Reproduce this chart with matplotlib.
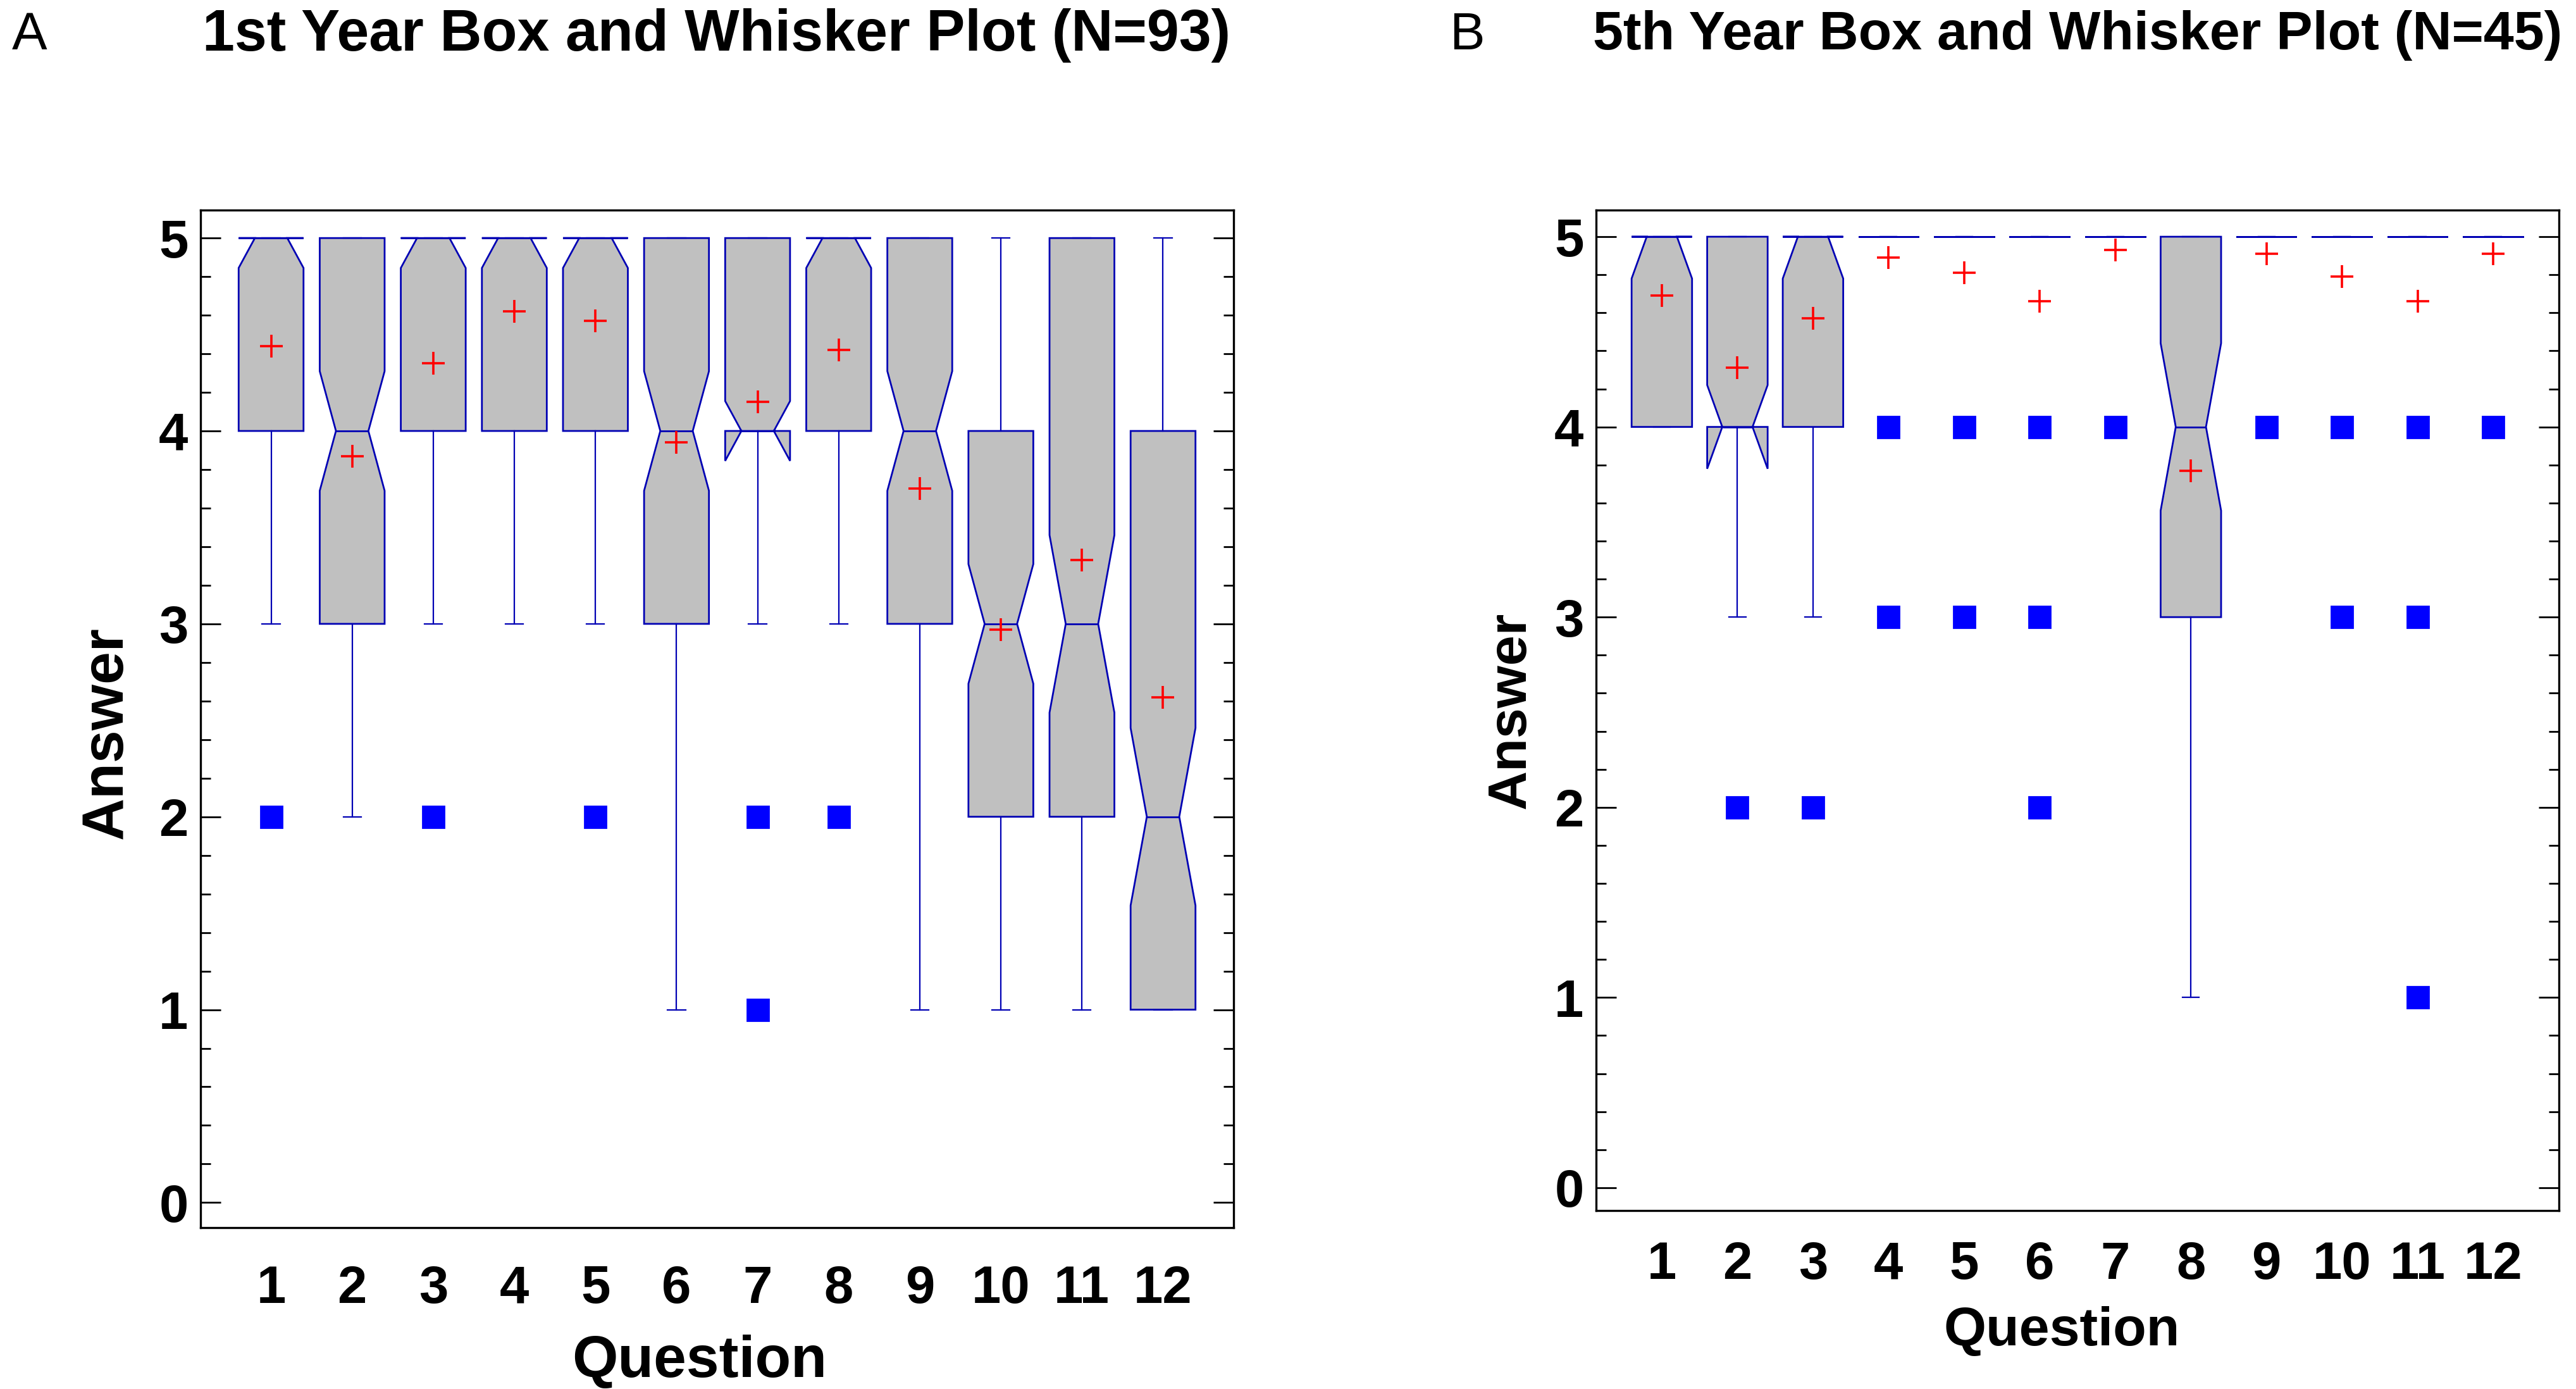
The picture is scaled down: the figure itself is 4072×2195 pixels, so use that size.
import matplotlib
matplotlib.use("Agg")
import matplotlib.pyplot as plt
from matplotlib.ticker import MultipleLocator, FixedLocator

plt.rcParams['font.family'] = ['Liberation Sans', 'DejaVu Sans']

questions = [1, 2, 3, 4, 5, 6, 7, 8, 9, 10, 11, 12]

# Panel A: 1st year (N=93)
A_whislo = [3, 2, 3, 3, 3, 1, 3, 3, 1, 1, 1, 1]
A_q1 = [4, 3, 4, 4, 4, 3, 4, 4, 3, 2, 2, 1]
A_med = [5, 4, 5, 5, 5, 4, 4, 5, 4, 3, 3, 2]
A_q3 = [5, 5, 5, 5, 5, 5, 5, 5, 5, 4, 5, 4]
A_whishi = [5, 5, 5, 5, 5, 5, 5, 5, 5, 5, 5, 5]
A_mean = [4.44, 3.87, 4.35, 4.62, 4.57, 3.94, 4.15, 4.42, 3.70, 2.97, 3.33, 2.62]
A_notch_lo = [0.155, 0.31, 0.155, 0.155, 0.155, 0.31, 0.155, 0.155, 0.31, 0.31, 0.46, 0.46]
A_notch_hi = [0, 0.31, 0, 0, 0, 0.31, 0.155, 0, 0.31, 0.31, 0.46, 0.46]
A_fliers = [[2], [], [2], [], [2], [], [2, 1], [2], [], [], [], []]

# Panel B: 5th year (N=45)
B_whislo = [4, 3, 3, 5, 5, 5, 5, 1, 5, 5, 5, 5]
B_q1 = [4, 4, 4, 5, 5, 5, 5, 3, 5, 5, 5, 5]
B_med = [5, 4, 5, 5, 5, 5, 5, 4, 5, 5, 5, 5]
B_q3 = [5, 5, 5, 5, 5, 5, 5, 5, 5, 5, 5, 5]
B_whishi = [5, 5, 5, 5, 5, 5, 5, 5, 5, 5, 5, 5]
B_mean = [4.69, 4.31, 4.57, 4.89, 4.81, 4.66, 4.93, 3.77, 4.91, 4.79, 4.66, 4.91]
B_notch_lo = [0.22, 0.22, 0.22, 0, 0, 0, 0, 0.44, 0, 0, 0, 0]
B_notch_hi = [0, 0.22, 0, 0, 0, 0, 0, 0.44, 0, 0, 0, 0]
B_fliers = [[], [2], [2], [4, 3], [4, 3], [4, 3, 2], [4], [], [4], [4, 3], [4, 3, 1], [4]]

title_A = "1st Year Box and Whisker Plot (N=93)"
title_B = "5th Year Box and Whisker Plot (N=45)"

EDGE = '#0000B4'
FILL = '#C0C0C0'


def make_stats(wl, q1, med, q3, wh, mean, nlo, nhi, fliers):
    stats = []
    for i in range(len(questions)):
        stats.append(dict(whislo=wl[i], q1=q1[i], med=med[i], q3=q3[i], whishi=wh[i],
                          mean=mean[i], cilo=med[i] - nlo[i], cihi=med[i] + nhi[i],
                          fliers=fliers[i], label=str(questions[i])))
    return stats


W, H = 4072, 2195
DPI = 200
fig = plt.figure(figsize=(W / DPI, H / DPI), dpi=DPI)


def draw(ax, stats, ylim, title, letter, title_x, letter_x, xlab_xy, ylab_xy, xpad,
         title_fs, label_fs):
    ax.bxp(stats, positions=questions, widths=0.8, capwidths=0.22,
           patch_artist=True, shownotches=True, showmeans=True, meanline=False,
           boxprops=dict(facecolor=FILL, edgecolor=EDGE, linewidth=1.0),
           whiskerprops=dict(color=EDGE, linewidth=0.8),
           capprops=dict(color=EDGE, linewidth=0.8),
           medianprops=dict(color=EDGE, linewidth=1.0),
           meanprops=dict(marker='+', markeredgecolor='#FF0000', markerfacecolor='none',
                          markersize=13, markeredgewidth=1.3, zorder=5),
           flierprops=dict(marker='s', markerfacecolor='#0000FF', markeredgecolor='#0000FF',
                           markersize=12, linestyle='none'))
    ax.set_xlim(0.13, 12.87)
    ax.set_ylim(*ylim)
    ax.xaxis.set_major_locator(FixedLocator(questions))
    ax.set_xticklabels([str(q) for q in questions])
    ax.yaxis.set_major_locator(MultipleLocator(1))
    ax.yaxis.set_minor_locator(MultipleLocator(0.2))
    ax.tick_params(axis='x', which='both', length=0, pad=xpad, labelsize=30)
    for lab in ax.get_xticklabels():
        lab.set_fontweight('bold')
    ax.tick_params(axis='y', which='major', direction='in', left=True, right=True,
                   length=11.5, width=1.0, pad=7, labelsize=30)
    ax.tick_params(axis='y', which='minor', direction='in', left=True, right=True,
                   length=5.8, width=1.0)
    for lab in ax.get_yticklabels():
        lab.set_fontweight('bold')
    for sp in ax.spines.values():
        sp.set_linewidth(1.2)
        sp.set_color('black')
    ax.set_xlabel('Question', fontsize=label_fs, fontweight='bold')
    ax.xaxis.label.set_va('center')
    ax.xaxis.set_label_coords(*xlab_xy)
    ax.set_ylabel('Answer', fontsize=label_fs, fontweight='bold')
    ax.yaxis.label.set_va('center')
    ax.yaxis.set_label_coords(*ylab_xy)
    fig.text(title_x, 1 - 56 / H, title, fontsize=title_fs, fontweight='bold',
             ha='center', va='center')
    fig.text(letter_x, 1 - 56 / H, letter, fontsize=30, ha='center', va='center')


axA = fig.add_axes([317 / W, 1 - 1940 / H, (1950 - 317) / W, (1940 - 332) / H])
draw(axA, make_stats(A_whislo, A_q1, A_med, A_q3, A_whishi, A_mean, A_notch_lo, A_notch_hi,
                     A_fliers),
     (-0.13, 5.145), title_A, 'A', 1133 / W, 47 / W, (0.483, -0.132), (-0.0906, 0.486), 21,
     33, 33.5)

axB = fig.add_axes([2523 / W, 1 - 1913 / H, (4045 - 2523) / W, (1913 - 332) / H])
draw(axB, make_stats(B_whislo, B_q1, B_med, B_q3, B_whishi, B_mean, B_notch_lo, B_notch_hi,
                     B_fliers),
     (-0.12, 5.14), title_B, 'B', 3284 / W, 2319 / W, (0.484, -0.121), (-0.088, 0.50), 17,
     31, 31)

fig.savefig('out.png', dpi=DPI)
